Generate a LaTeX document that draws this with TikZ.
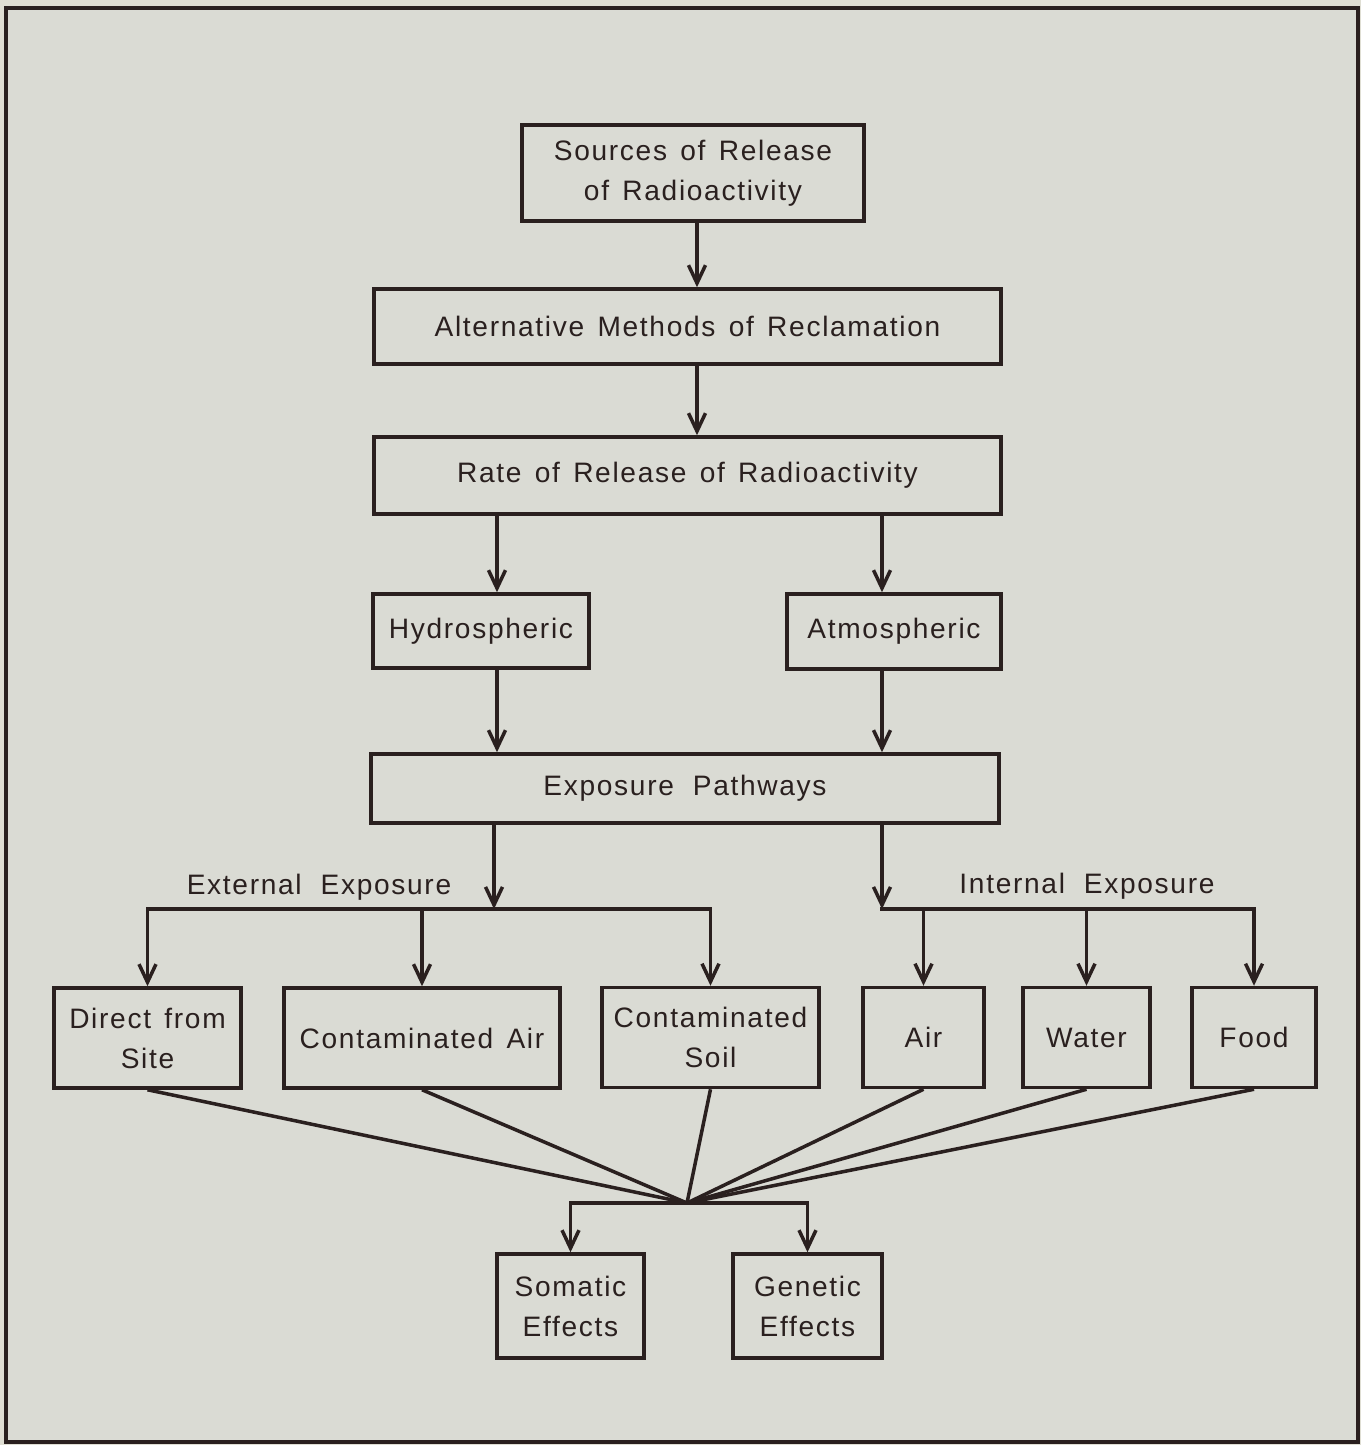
\documentclass[tikz,border=0pt]{standalone}
\usepackage{fontspec}
\setmainfont{Liberation Sans}[LetterSpace=6,WordSpace=1.4]
\usetikzlibrary{arrows.meta}
\definecolor{ink}{HTML}{2A201F}
\definecolor{paper}{HTML}{DFDED3}
\definecolor{panel}{HTML}{DADBD4}
\begin{document}
\begin{tikzpicture}[x=0.02cm,y=-0.02cm,
  txt/.style={text=ink,font=\fontsize{16}{22.7}\selectfont},
  box/.style={txt,draw=ink,line width=2pt,inner sep=0pt,align=center},
  arr/.style={draw=ink,line width=2pt,-{Straight Barb[length=0.36cm,width=0.34cm,line width=2pt]}},
  ln/.style={draw=ink,line width=2pt,line cap=rect,line join=round},
  lab/.style={txt,inner sep=0pt}]

\fill[paper] (0,0) rectangle (1361,1445);
\filldraw[fill=panel,draw=ink,line width=2.5pt] (6,8) rectangle (1358,1442);

% boxes
\node[box,minimum width=6.84cm,minimum height=1.92cm] (src) at (693,173) {Sources of Release\\of Radioactivity};
\node[box,minimum width=12.54cm,minimum height=1.5cm] (alt) at (687.5,326.5) {Alternative Methods of Reclamation};
\node[box,minimum width=12.54cm,minimum height=1.54cm] (rate) at (687.5,475.5) {Rate of Release of Radioactivity};
\node[box,minimum width=4.32cm,minimum height=1.48cm] (hyd) at (481,631) {Hydrospheric};
\node[box,minimum width=4.28cm,minimum height=1.5cm] (atm) at (894,631.5) {Atmospheric};
\node[box,minimum width=12.56cm,minimum height=1.38cm] (exp) at (685,788.5) {Exposure\hspace{0.2em} Pathways};
\node[box,minimum width=3.74cm,minimum height=2.0cm] (direct) at (147.5,1038) {Direct from\\Site};
\node[box,minimum width=5.52cm,minimum height=2.0cm] (cair) at (422,1038) {Contaminated Air};
\node[box,minimum width=4.34cm,minimum height=2.0cm] (csoil) at (710.5,1037.5) {Contaminated\\Soil};
\node[box,minimum width=2.42cm,minimum height=2.0cm] (air) at (923.5,1037.5) {Air};
\node[box,minimum width=2.54cm,minimum height=2.0cm] (water) at (1086.5,1037.5) {Water};
\node[box,minimum width=2.48cm,minimum height=2.0cm] (food) at (1254,1037.5) {Food};
\node[box,minimum width=2.94cm,minimum height=2.08cm] (som) at (570.5,1306) {Somatic\\Effects};
\node[box,minimum width=2.98cm,minimum height=2.08cm] (gen) at (807.5,1306) {Genetic\\Effects};

% labels
\node[lab] (extl) at (319,887) {External\hspace{0.2em} Exposure};
\node[lab] (intl) at (1087,886) {Internal\hspace{0.2em} Exposure};

% helper coordinates
\coordinate (s1) at (697,0);
\coordinate (hx) at (497,0);
\coordinate (ax) at (882,0);
\coordinate (ex) at (494,909);
\coordinate (ix) at (882,909);
\coordinate (cv) at (687,1203);

% main chain
\draw[arr] (src.south -| s1) -- (alt.north -| s1);
\draw[arr] (alt.south -| s1) -- (rate.north -| s1);
\draw[arr] (rate.south -| hx) -- (hyd.north -| hx);
\draw[arr] (rate.south -| ax) -- (atm.north -| ax);
\draw[arr] (hyd.south -| hx) -- (exp.north -| hx);
\draw[arr] (atm.south -| ax) -- (exp.north -| ax);

% external exposure
\draw[arr] (exp.south -| ex) -- (ex);
\draw[ln] (direct.north |- ex) -- (csoil.north |- ex);
\draw[arr] (direct.north |- ex) -- (direct.north);
\draw[arr] (cair.north |- ex) -- (cair.north);
\draw[arr] (csoil.north |- ex) -- (csoil.north);

% internal exposure
\draw[arr] (exp.south -| ix) -- (ix);
\draw[ln] (ix) -- (food.north |- ix);
\draw[arr] (air.north |- ix) -- (air.north);
\draw[arr] (water.north |- ix) -- (water.north);
\draw[arr] (food.north |- ix) -- (food.north);

% convergence
\foreach \n in {direct,cair,csoil,air,water,food}
  \draw[ln,line cap=butt] (\n.south) -- (cv);
\draw[ln] (som.north |- cv) -- (gen.north |- cv);
\draw[arr] (som.north |- cv) -- (som.north);
\draw[arr] (gen.north |- cv) -- (gen.north);
\end{tikzpicture}
\end{document}
